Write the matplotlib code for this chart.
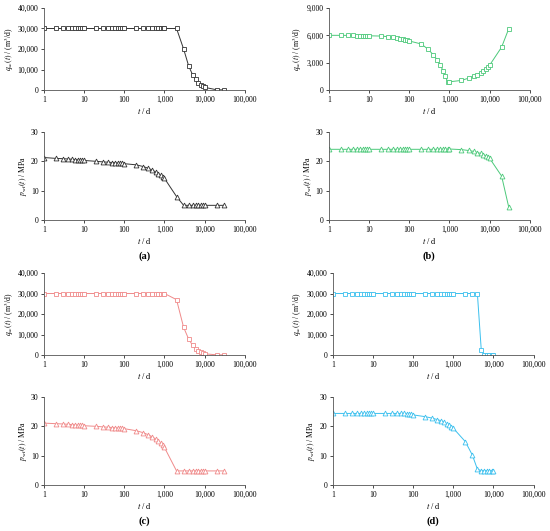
import matplotlib
matplotlib.use("Agg")
import matplotlib.pyplot as plt
from matplotlib.ticker import FuncFormatter

plt.rcParams['font.family'] = ['Liberation Serif', 'DejaVu Serif']
plt.rcParams['mathtext.fontset'] = 'stix'

t_full = [1,2,3,4,5,6,7,8,9,10,20,30,40,50,60,70,80,90,100,200,300,400,500,600,700,800,900,1000,
          2000,3000,4000,5000,6000,7000,8000,9000,10000,20000,30000]
t_short = t_full[:37]

q_a = [30000]*29 + [20000,11800,7500,5200,3500,2600,1800,1300,100,50]
p_a = [21.3,21.0,20.9,20.8,20.7,20.6,20.5,20.5,20.4,20.3,20.0,19.8,19.7,19.6,19.5,19.4,19.4,19.3,19.2,
       18.8,18.2,17.6,17.0,16.4,15.8,15.2,14.7,14.2,8.0,5,5,5,5,5,5,5,5,5,5]
q_b = [6000,6000,5990,5985,5980,5975,5970,5965,5960,5950,5920,5850,5780,5720,5650,5580,5500,5440,5380,
       5050,4450,3850,3300,2700,2100,1500,900,900,1050,1300,1500,1700,1900,2100,2300,2500,2700,4700,6700]
p_b = [24.1]*27 + [24.2,24.0,23.7,23.4,23.0,22.7,22.3,21.9,21.5,21.1,15.0,4.5]
q_c = [30000]*28 + [27000,13500,7800,4800,3000,2000,1300,900,600,80,50]
p_c = [21.1,20.9,20.8,20.7,20.6,20.5,20.4,20.4,20.3,20.2,20.0,19.8,19.7,19.6,19.5,19.4,19.4,19.3,19.2,
       18.5,17.8,17.1,16.4,15.7,15.0,14.2,13.5,12.8,4.8,4.8,4.8,4.8,4.8,4.8,4.8,4.8,4.8,4.8,4.8]
q_d = [30000]*31 + [2500,200,0,0,0,0]
p_d = [24.4]*15 + [24.3,24.2,24.1,23.9,23.3,22.8,22.3,21.9,21.4,20.9,20.4,19.9,19.4,14.8,10.2,5.4,4.9,4.9,4.9,4.9,4.9,4.9]

panels = [
    ("(a)", t_full, q_a, t_full, p_a, "#333333", (40000, 10000), 0.080),
    ("(b)", t_full, q_b, t_full, p_b, "#4CC97A", (9000, 3000), 0.598),
    ("(c)", t_full, q_c, t_full, p_c, "#F08A8A", (40000, 10000), 0.080),
    ("(d)", t_short, q_d, t_short, p_d, "#3CC0EE", (40000, 10000), 0.605),
]
W, H = 550, 531
fig = plt.figure(figsize=(W/100, H/100), dpi=100)
comma = FuncFormatter(lambda v, p: f"{int(v):,}")

def style(ax):
    ax.set_xscale('log')
    ax.set_xlim(1, 100000)
    for s in ['top', 'right']:
        ax.spines[s].set_visible(False)
    for s in ['left', 'bottom']:
        ax.spines[s].set_color('#555555'); ax.spines[s].set_linewidth(0.6)
    ax.xaxis.set_major_formatter(comma)
    ax.yaxis.set_major_formatter(comma)
    ax.minorticks_off()
    ax.tick_params(labelsize=5.5, length=2, width=0.5, direction='out', pad=2)
    ax.set_xlabel(r"$t$ / d", fontsize=6, labelpad=2)

for i, (lab, tq, q, tp, p, col, (ymax, ystep), left) in enumerate(panels):
    top_off = 0 if i < 2 else 265
    width = 0.365
    ax1 = fig.add_axes([left, 1 - (top_off + 90)/H, width, 82/H])
    ax1.plot(tq, q, '-', color=col, lw=0.7, marker='s', ms=3.3, mfc='white', mec=col, mew=0.6)
    ax1.set_ylim(0, ymax); ax1.set_yticks(range(0, ymax + 1, ystep))
    style(ax1)
    ax1.set_ylabel(r"$q_{\mathrm{sc}}(t)$ / (m$^3$/d)", fontsize=5.5, labelpad=1.5)
    ax2 = fig.add_axes([left, 1 - (top_off + 220)/H, width, 88/H])
    ax2.plot(tp, p, '-', color=col, lw=0.7, marker='^', ms=3.5, mfc='white', mec=col, mew=0.6)
    ax2.set_ylim(0, 30); ax2.set_yticks([0, 10, 20, 30])
    style(ax2)
    ax2.set_ylabel(r"$p_{\mathrm{wf}}(t)$ / MPa", fontsize=5.5, labelpad=1.5)
    fig.text(left + width/2, 1 - (top_off + 256)/H, lab, ha='center', va='center', fontsize=7.5,
             fontweight='bold')

fig.savefig("out.png", dpi=100, facecolor='white')
